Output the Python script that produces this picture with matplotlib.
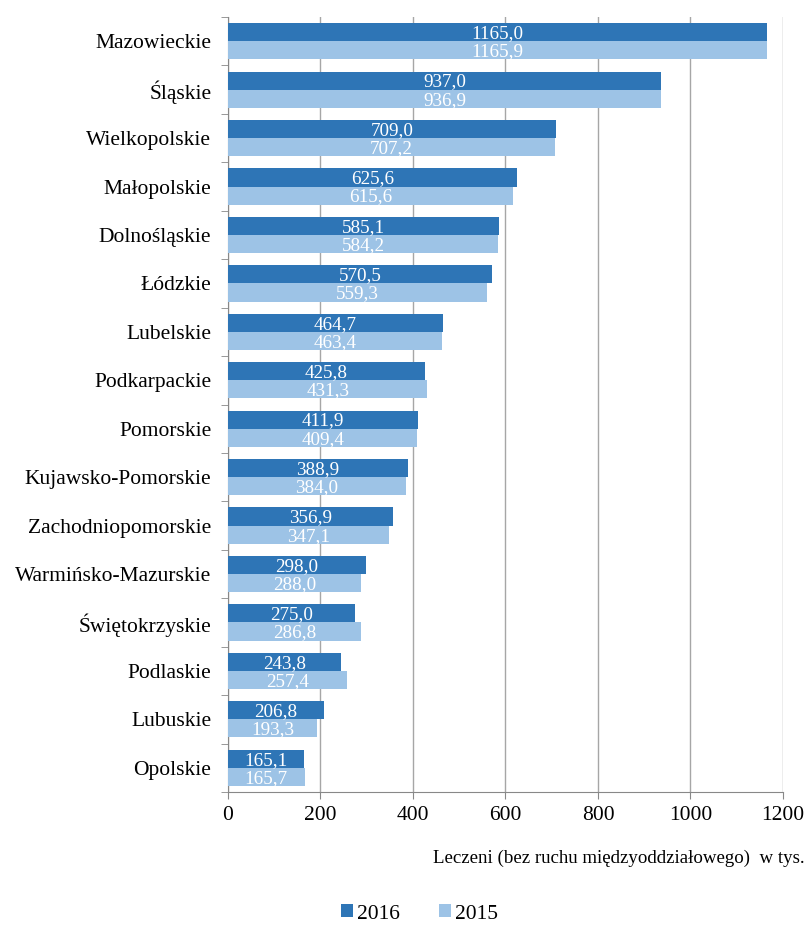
import numpy as np
import matplotlib.pyplot as plt

plt.rcParams['font.family'] = ['Liberation Serif', 'DejaVu Serif']

regions = ["Mazowieckie", "Śląskie", "Wielkopolskie", "Małopolskie", "Dolnośląskie",
           "Łódzkie", "Lubelskie", "Podkarpackie", "Pomorskie", "Kujawsko-Pomorskie",
           "Zachodniopomorskie", "Warmińsko-Mazurskie", "Świętokrzyskie", "Podlaskie",
           "Lubuskie", "Opolskie"]
v2016 = [1165.0, 937.0, 709.0, 625.6, 585.1, 570.5, 464.7, 425.8, 411.9, 388.9,
         356.9, 298.0, 275.0, 243.8, 206.8, 165.1]
v2015 = [1165.9, 936.9, 707.2, 615.6, 584.2, 559.3, 463.4, 431.3, 409.4, 384.0,
         347.1, 288.0, 286.8, 257.4, 193.3, 165.7]

c16 = '#2E75B6'
c15 = '#9DC3E6'

fig = plt.figure(figsize=(8.07, 9.25), dpi=100)
ax = fig.add_axes([0.2825, 0.1438, 0.6877, 0.8378])

y = np.arange(len(regions))
h = 0.375
b1 = ax.barh(y - h / 2, v2016, height=h, color=c16, label='2016', zorder=3)
b2 = ax.barh(y + h / 2, v2015, height=h, color=c15, label='2015', zorder=3)

# etykiety wartości w środku słupków, przecinek dziesiętny
fmt = lambda v: f"{v:.1f}".replace('.', ',')
for bars, vals in ((b1, v2016), (b2, v2015)):
    for r, v in zip(bars, vals):
        ax.text(v / 2, r.get_y() + r.get_height() / 2 + 0.03, fmt(v), ha='center', va='center',
                color='white', fontsize=13.8, zorder=4)

ax.set_xlim(0, 1200)
ax.set_ylim(len(regions) - 0.5, -0.5)
ax.set_xticks(np.arange(0, 1201, 200))
ax.set_yticks(y)
ax.set_yticklabels(regions, fontsize=15.5)
ax.set_yticks(np.arange(-0.5, len(regions), 1), minor=True)
ax.tick_params(axis='y', which='major', length=0, pad=12)
ax.tick_params(axis='y', which='minor', length=5, color='#888888')
ax.tick_params(axis='x', labelsize=15.5, length=5, color='#888888', pad=5)

ax.grid(axis='x', color='#a6a6a6', linewidth=1, zorder=0)
for s in ('top', 'right'):
    ax.spines[s].set_visible(False)
for s in ('left', 'bottom'):
    ax.spines[s].set_color('#888888')

fig.text(0.997, 1 - 858 / 925, 'Leczeni (bez ruchu międzyoddziałowego)  w tys.',
         ha='right', va='center', fontsize=13.6)

fig.legend(handles=[b1, b2], loc='center', bbox_to_anchor=(0.52, 1 - 914 / 925), ncol=2,
           frameon=False, fontsize=15.5, handlelength=0.55, handleheight=0.55,
           columnspacing=1.8, handletextpad=0.2)

fig.savefig('out.png', dpi=100)
